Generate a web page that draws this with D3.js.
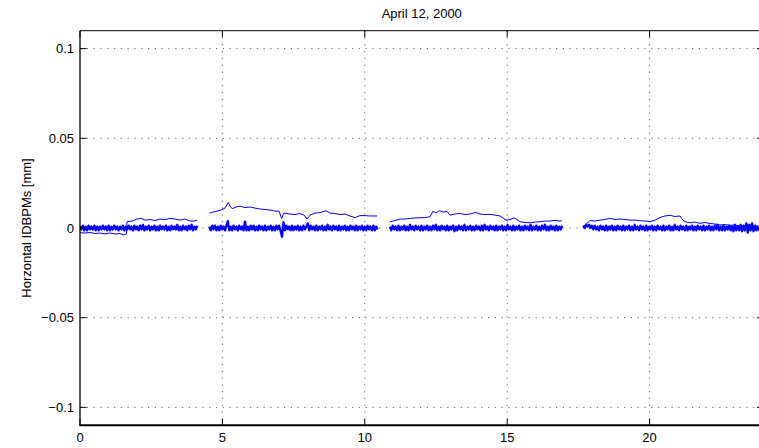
<!DOCTYPE html>
<meta charset="utf-8">
<style>
body { margin: 0; background: #fff; }
svg { display: block; font-family: "Liberation Sans", Arial, sans-serif; }
.grid line { stroke: #666; stroke-width: 1; stroke-dasharray: 1.2,5.6; }
.axis-box { fill: none; stroke: #000; }
.tick-mark { stroke: #000; stroke-width: 1; }
.tick-label { font-size: 13px; fill: #000; }
.band { fill: none; stroke: #00f; stroke-width: 2.3; stroke-linejoin: round; }
.drift { fill: none; stroke: #00f; stroke-width: 1; }
</style>
<svg width="759" height="448"></svg>
<script src="https://d3js.org/d3.v7.min.js"></script>
<script>

// tick labels
var xTicks = [0, 5, 10, 15, 20],
    yTicks = [0.1, 0.05, 0, -0.05, -0.1],
    yTickText = ["0.1", "0.05", "0", "\u22120.05", "\u22120.1"];

// noisy IDBPM traces (µm), one array per fill; sampled evenly between start and end hour
var bandA = [0.8,-0.8,1.3,-1.3,0.8,-1.3,1.3,-0.8,0.8,-0.8,1.3,-1.3,0.8,-1.3,0.8,-0.8,1.3,-0.8,0.8,-1.3,
             1.3,-1.3,0.8,-0.8,1.3,-0.8,0.8,-1.3,0.8,-0.8,1.3,-1.3,0.8,-0.8,1.3,-0.8,0.8,-1.3,1.3,-0.8,
             0.8,-1.3,1.3,-0.8,1.8,-1.3,0.8,-0.8,1.3,-1.3,0.8,-0.8,1.3,-1.3,0.8,-1.3,1.3,-0.8,0.8,-0.8,
             1.3,-1.3,0.8,-1.3,1.3,-0.8,0.8,-0.8,1.8,-1.3,0.8,-1.3,1.3,-0.8,0.8,-1.3,1.3,-0.8,1.8,-1.3,0.8,-0.8,1.3];
var bandB = [0.8,-1.3,1.3,-0.8,1.3,-1.3,0.8,-1.3,1.3,-0.8, 0.8,-1.3,1.3,3.8,-1.3,0.8,-1.3,1.3,-0.8,0.8,
             -1.3,1.3,-0.8,0.8,-1.3,3.6,-1.3,0.8,-1.3,1.3, -0.8,1.3,-1.3,0.8,-1.3,1.3,-0.8,0.8,-1.3,1.3,
             -1.3,0.8,-0.8,1.3,-1.3,0.8,-1.3,1.3,-0.8,1.3, -1.8,-4.8,3.2,-1.3,1.3,-0.8,0.8,-1.3,1.3,-1.3,
             0.8,-0.8,1.3,-1.3,0.8,-1.3,1.3,-0.8,0.8,2.6, -1.3,1.3,-0.8,0.8,-1.3,1.3,-1.3,0.8,-0.8,1.3,
             -1.3,0.8,-1.3,1.8,-0.8,0.8,-1.3,1.3,-0.8,0.8, -1.3,1.3,-1.3,0.8,-0.8,1.3,-1.3,0.8,-1.3,1.3,
             -0.8,0.8,-1.3,1.3,-1.3,0.8,-0.8,1.3,-1.3,0.8, -1.3,1.3,-0.8,0.8,-1.3,1.3,-1.3,0.8,-0.8];
var bandC = [0.8,-1.3,1.3,-0.8,0.8,-1.3,1.3,-1.3,0.8,-0.8, 1.3,-1.3,0.8,-1.3,1.8,-0.8,0.8,-1.3,1.3,-0.8,
             0.8,-1.3,1.3,-1.3,0.8,-0.8,1.3,-1.3,0.8,-1.3, 1.3,-0.8,1.8,-1.3,0.8,-1.3,1.3,-0.8,0.8,-1.3,
             1.3,-1.3,0.8,-0.8,1.3,-1.8,0.8,-1.3,1.3,-0.8, 0.8,-1.3,1.8,-1.3,0.8,-0.8,1.3,-1.3,0.8,-1.3,
             1.3,-0.8,0.8,-1.3,1.3,-1.3,1.8,-0.8,0.8,-1.3, 1.3,-0.8,0.8,-1.3,1.3,-1.3,0.8,-0.8,1.3,-1.3,
             0.8,-1.3,1.8,-0.8,0.8,-1.3,1.3,-1.3,0.8,-0.8, 1.3,-1.3,0.8,-1.3,1.3,-0.8,0.8,-1.3,1.8,-1.3,
             0.8,-0.8,1.3,-1.3,0.8,-1.3,1.3,-0.8,1.8,-1.3, 0.8,-1.3,1.3,-0.8,0.8,-1.3,1.3,-1.3,0.8,-0.8,1.3];
var bandD = [1.3,0,1.8,0.8,1.8,0,1.3,-0.8,1.3, -0.8,0.8,-1.3,1.3,-0.8,0.8,-1.3,1.3,-1.3,0.8,-0.8,
             1.3,-1.3,0.8,-1.3,1.3,-0.8,0.8,-1.3,1.3,-1.3, 0.8,-0.8,1.3,-1.3,0.8,-1.3,1.8,-0.8,0.8,-1.3,
             1.3,-0.8,0.8,-1.3,1.3,-1.3,0.8,-0.8,1.3,-1.3, 0.8,-1.3,1.3,-0.8,0.8,-1.3,1.3,-1.3,0.8,-0.8,
             1.3,-1.3,0.8,-1.3,1.8,-0.8,0.8,-1.3,1.3,-0.8, 0.8,-1.3,1.3,-1.3,0.8,-0.8,1.3,-1.3,0.8,-1.3,
             1.3,-0.8,0.8,-1.3,1.3,-1.3,0.8,-0.8,1.3,-1.3, 0.8,-1.3,1.3,-0.8,1.8,-1.3,0.8,-1.3,1.3,-1.3,
             0.8,-0.8,1.3,-1.3,0.8,-1.8,1.8,-1.3,0.8,-1.3, 1.8,-1.8,1.3,-1.3,2.6,-2.6,1.8,-1.3,2.6,-1.8,
             1.3,-1.3,0.8,-1.3,1.3,-0.8,0.8];
var bandSpans = [[0, 4.12], [4.54, 10.45], [10.88, 16.93], [17.67, 24]];

// drifting IDBPM: [hour, µm]
var driftA = [[0,-2.6],[0.18,-2.8],[0.35,-2.5],[0.53,-3.1],[0.70,-2.8],[0.88,-3.3],[1.05,-2.8],[1.23,-3.3],[1.40,-3.1],[1.54,-3.9],[1.63,-3.3],
              [1.65,3.5],[1.83,3.9],[2.0,5.0],[2.14,5.4],[2.28,4.4],[2.46,4.7],[2.63,4.2],[2.81,5.0],[2.98,4.7],[3.16,5.3],[3.34,5.0],[3.51,4.4],[3.69,5.0],[3.86,3.9],[4.03,3.9],[4.11,4.4]];
var driftB = [[4.55,8.2],[4.67,8.9],[4.81,9.4],[4.95,10.0],[5.09,11.1],[5.21,14.2],[5.27,12.2],[5.34,10.8],[5.48,11.7],[5.62,12.2],[5.79,11.4],[5.97,11.7],
              [6.14,11.1],[6.32,10.6],[6.50,10.3],[6.67,10.0],[6.85,9.4],[6.99,9.4],[7.08,5.3],[7.16,8.3],[7.37,7.8],[7.55,7.5],[7.72,8.1],[7.87,7.2],
              [7.97,5.0],[8.08,7.2],[8.25,8.3],[8.43,8.6],[8.64,9.6],[8.78,8.3],[8.95,8.1],[9.13,7.5],[9.30,7.8],[9.48,6.7],[9.66,5.8],[9.83,6.9],
              [10.01,6.9],[10.18,6.7],[10.43,6.7]];
var driftC = [[10.88,3.3],[11.06,4.2],[11.24,5.0],[11.41,5.0],[11.59,5.3],[11.76,5.6],[11.94,5.7],[12.11,5.8],[12.29,6.3],[12.40,9.4],[12.50,8.3],
              [12.61,9.7],[12.75,8.9],[12.89,9.2],[12.99,7.2],[13.17,7.8],[13.34,8.1],[13.52,7.5],[13.69,7.8],[13.90,8.7],[14.04,7.8],[14.22,7.5],
              [14.40,7.6],[14.57,7.2],[14.75,6.7],[14.85,5.6],[14.96,4.4],[15.10,4.7],[15.24,5.7],[15.34,4.7],[15.45,3.5],[15.63,3.1],[15.80,2.9],
              [15.98,3.3],[16.15,3.5],[16.33,3.9],[16.50,3.9],[16.68,4.2],[16.85,3.9],[16.92,4.1]];
var driftD = [[17.66,0.6],[17.77,2.2],[17.91,4.1],[18.08,3.9],[18.26,4.4],[18.43,4.7],[18.61,5.4],[18.79,4.7],[18.96,5.0],[19.14,4.7],[19.31,4.4],
              [19.49,4.4],[19.66,4.1],[19.84,3.9],[20.01,3.5],[20.19,4.4],[20.37,5.9],[20.54,6.7],[20.72,7.1],[20.89,6.4],[21.07,6.7],[21.17,4.4],
              [21.28,3.3],[21.42,2.9],[21.59,3.3],[21.77,2.6],[21.95,3.1],[22.12,2.5],[22.30,2.2],[22.47,1.7],[22.65,1.9],[22.82,1.5],[23.00,1.7],
              [23.17,1.1],[23.35,1.4],[23.53,1.1],[23.70,1.1],[23.88,0.8]];

var svg = d3.select("svg"),
    padL = 80, padR = 763.5, padT = 30.7, padB = 425.3,
    tickLen = 6.5;

var x = d3.scaleLinear().domain([0, 24]).range([padL, padR]),
    y = d3.scaleLinear().domain([-0.11, 0.11]).range([padB, padT]);

svg.append("defs").append("clipPath").attr("id", "plot-clip")
  .append("rect").attr("x", padL).attr("y", padT).attr("width", padR - padL).attr("height", padB - padT);

// grid
var grid = svg.append("g").attr("class", "grid");
grid.selectAll(".gx").data(xTicks.slice(1)).enter().append("line")
    .attr("x1", function(d) { return x(d); }).attr("x2", function(d) { return x(d); })
    .attr("y1", padT).attr("y2", padB);
grid.selectAll(".gy").data(yTicks).enter().append("line")
    .attr("x1", padL).attr("x2", padR)
    .attr("y1", function(d) { return y(d); }).attr("y2", function(d) { return y(d); });

// data
var line = d3.line()
    .x(function(d) { return x(d[0]); })
    .y(function(d) { return y(d[1] / 1000); });

var plot = svg.append("g").attr("clip-path", "url(#plot-clip)");

[bandA, bandB, bandC, bandD].forEach(function(vals, k) {
  var t0 = bandSpans[k][0], t1 = bandSpans[k][1],
      dt = (t1 - t0) / (vals.length - 1);
  plot.append("path")
      .attr("class", "band")
      .attr("d", line(vals.map(function(v, i) { return [t0 + i * dt, v]; })));
});

[driftA, driftB, driftC, driftD].forEach(function(pts) {
  plot.append("path").attr("class", "drift").attr("d", line(pts));
});

// axes box
svg.append("line").attr("class", "axis-box").attr("x1", padL).attr("x2", padR).attr("y1", padT).attr("y2", padT).style("stroke-width", 1);
svg.append("line").attr("class", "axis-box").attr("x1", padL).attr("x2", padL).attr("y1", padT).attr("y2", padB).style("stroke-width", 1.3);
svg.append("line").attr("class", "axis-box").attr("x1", padR).attr("x2", padR).attr("y1", padT).attr("y2", padB).style("stroke-width", 1);
svg.append("line").attr("class", "axis-box").attr("x1", padL - 0.6).attr("x2", padR).attr("y1", padB).attr("y2", padB).style("stroke-width", 2);

// ticks (inward, all four sides)
var ticks = svg.append("g");
xTicks.forEach(function(d) {
  ticks.append("line").attr("class", "tick-mark").attr("x1", x(d)).attr("x2", x(d)).attr("y1", padB).attr("y2", padB - tickLen);
  ticks.append("line").attr("class", "tick-mark").attr("x1", x(d)).attr("x2", x(d)).attr("y1", padT).attr("y2", padT + tickLen);
  ticks.append("text").attr("class", "tick-label")
      .attr("x", x(d)).attr("y", padB + 17)
      .attr("text-anchor", "middle")
      .text(d);
});
yTicks.forEach(function(d, i) {
  ticks.append("line").attr("class", "tick-mark").attr("x1", padL).attr("x2", padL + tickLen).attr("y1", y(d)).attr("y2", y(d));
  ticks.append("line").attr("class", "tick-mark").attr("x1", padR).attr("x2", padR - tickLen).attr("y1", y(d)).attr("y2", y(d));
  ticks.append("text").attr("class", "tick-label")
      .attr("x", padL - 6).attr("y", y(d)).attr("dy", "0.35em")
      .attr("text-anchor", "end")
      .text(yTickText[i]);
});

// title and y label
svg.append("text").attr("class", "tick-label")
    .attr("x", (padL + padR) / 2).attr("y", 18)
    .attr("text-anchor", "middle")
    .text("April 12, 2000");

svg.append("text").attr("class", "tick-label")
    .attr("transform", "translate(31," + y(0) + ") rotate(-90)")
    .attr("text-anchor", "middle")
    .text("Horzontal IDBPMs [mm]");

</script>
